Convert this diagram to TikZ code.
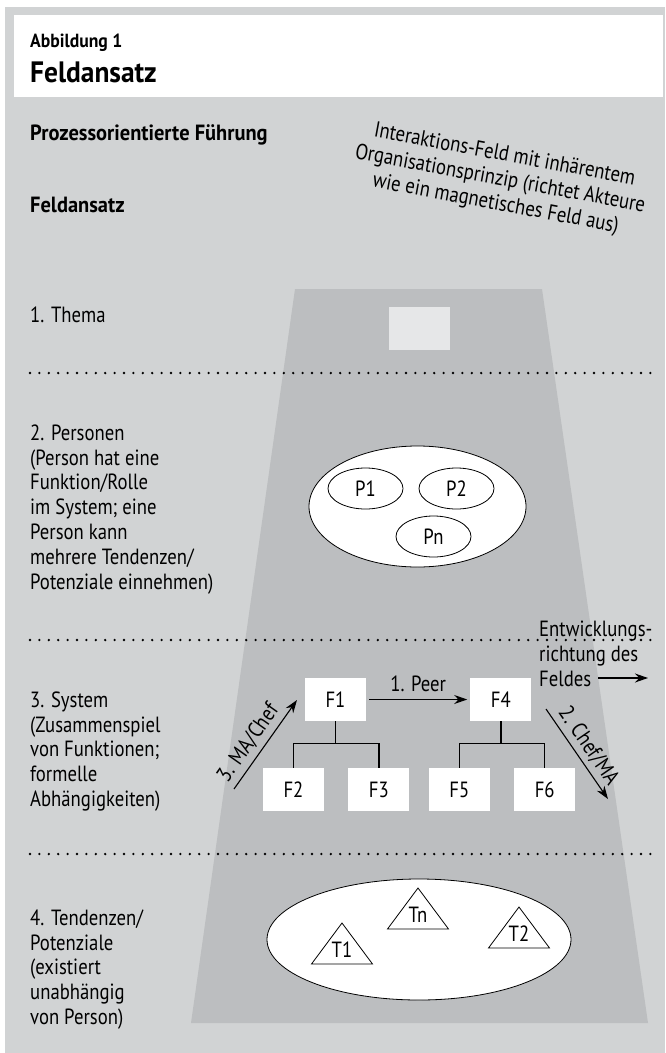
\documentclass[tikz,border=0pt]{standalone}
\usepackage{fontspec}
\setmainfont{PT Sans}[FakeStretch=0.85, BoldFeatures={FakeStretch=0.93}]
\usetikzlibrary{positioning}
\usetikzlibrary{arrows.meta}
\usetikzlibrary{shapes.geometric}
\definecolor{panelgray}{HTML}{D1D3D4}
\definecolor{fieldgray}{HTML}{BCBEC0}
\definecolor{themegray}{HTML}{E6E7E8}
\tikzset{
    every node/.style={
        font=\fontsize{22}{24.8}\selectfont,
        inner sep=0pt},
    headline/.style={
        anchor=base west,
        font=\bfseries\fontsize{22}{24}\selectfont},
    levels/.style={
        anchor=north west,
        align=left},
    fbox/.style={
        fill=white,
        minimum width=61pt,
        minimum height=43pt},
    person/.style={
        ellipse,
        draw,
        fill=white,
        line width=0.8pt,
        minimum width=75pt,
        minimum height=41pt},
    feld/.style={
        ellipse,
        draw,
        fill=white,
        line width=0.8pt},
    sepline/.style={
        line width=2.6pt,
        line cap=round,
        dash pattern=on 0pt off 9.4pt},
    tree/.style={line width=1.2pt},
    flow/.style={
        -{Stealth[length=13pt,width=9pt]},
        line width=1.1pt}}

\begin{document}
\begin{tikzpicture}[x=1pt,y=-1pt]
    \useasboundingbox (0,0) rectangle (665,1053);
    \fill[white] (0,0) rectangle (665,1053);
    \fill[panelgray] (5,7) rectangle (665,1053);
    \fill[white] (14,15) rectangle (663,97);
    \fill[fieldgray] (295,289) -- (542,289) -- (648,1023) -- (191,1023) -- cycle;

    % headings
    \node[headline, font=\bfseries\fontsize{19}{24}\selectfont] (abb) at (30,47) {Abbildung 1};
    \node[headline, font=\bfseries\fontsize{29.5}{32}\selectfont] (title) at (30,82) {Feldansatz};
    \node[headline] (fuehrung) at (30,140) {Prozessorientierte Führung};
    \node[headline] (ansatz) at (30,212) {Feldansatz};
    \node[rotate=-10.5, align=center] (feldtext) at (500,180) {Interaktions-Feld mit inhärentem\\Organisationsprinzip (richtet Akteure\\wie ein magnetisches Feld aus)};

    % levels
    \node[levels] (thema) at (30,306.5) {1. Thema};
    \node[levels] (personen) at (30,424.5) {2. Personen\\(Person hat eine\\Funktion/Rolle\\im System; eine\\Person kann\\mehrere Tendenzen/\\Potenziale einnehmen)};
    \node[levels] (system) at (30,691.5) {3. System\\(Zusammenspiel\\von Funktionen;\\formelle\\Abhängigkeiten)};
    \node[levels] (tendenzen) at (30,909.5) {4. Tendenzen/\\Potenziale\\(existiert\\unabhängig\\von Person)};

    \foreach \y in {373,640,854}
        \draw[sepline] (30,\y) -- (652,\y);

    % 1. Thema
    \node[fill=themegray, minimum width=61pt, minimum height=43pt] (themabox) at (419.5,328.5) {};

    % 2. Personen
    \node[feld, minimum width=217pt, minimum height=121pt] (pfeld) at (417.5,506.5) {};
    \node[person] (P1) at (365.5,488.5) {P1};
    \node[person] (P2) at (456.5,488.5) {P2};
    \node[person] (Pn) at (433.5,536.5) {Pn};

    % 3. System
    \node[fbox] (F1) at (335.5,699.5) {F1};
    \node[fbox, right=104pt of F1] (F4) {F4};
    \node[fbox] (F2) at (293.5,789.5) {F2};
    \node[fbox, right=24pt of F2] (F3) {F3};
    \node[fbox, right=19pt of F3] (F5) {F5};
    \node[fbox, right=24pt of F5] (F6) {F6};

    \draw[tree] (F1.south) -- ++(0,22) coordinate (j1) -| (F2.north);
    \draw[tree] (j1) -| (F3.north);
    \draw[tree] (F4.south) -- ++(0,22) coordinate (j4) -| (F5.north);
    \draw[tree] (j4) -| (F6.north);

    \draw[flow, shorten <=3pt, shorten >=3pt] (F1) -- node[above=7pt] {1. Peer} (F4);

    \coordinate (chef1) at (546,709);
    \coordinate (chef2) at (608,799);
    \draw[flow] (chef1) -- node[sloped, above=4pt] {2. Chef/MA} (chef2);
    \coordinate (ma1) at (234,789);
    \coordinate (ma2) at (297,700);
    \draw[flow] (ma1) -- node[sloped, above=5pt, pos=0.42] {3. MA/Chef} (ma2);

    \node[levels] (entw) at (539,621) {Entwicklungs-\\richtung des\\Feldes};
    \coordinate (entw1) at (598,678);
    \coordinate (entw2) at (648,678);
    \draw[flow] (entw1) -- (entw2);

    % 4. Tendenzen
    \node[feld, minimum width=304pt, minimum height=121pt] (tfeld) at (419,939.5) {};
    \foreach \n/\x/\y in {T1/342/923, Tn/418/888, T2/519/907} {
        \draw[fill=white, line width=0.8pt] (\x,\y) -- ++(-30.5,41) -- ++(61,0) -- cycle;
        \node (\n) at (\x,\y+27) {\n};
    }
\end{tikzpicture}
\end{document}
